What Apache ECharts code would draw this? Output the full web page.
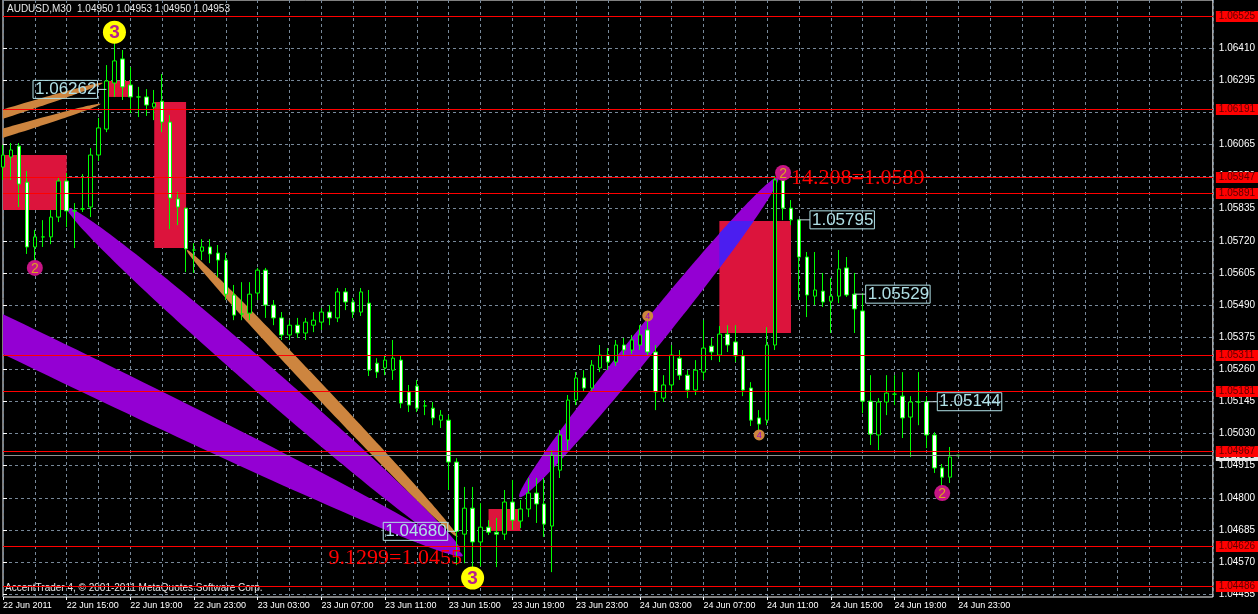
<!DOCTYPE html>
<html><head><meta charset="utf-8">
<script src="https://cdn.jsdelivr.net/npm/echarts@6/dist/echarts.min.js"></script>
<style>html,body{margin:0;padding:0;background:#000;}#c{width:1258px;height:614px;}</style>
</head><body><div id="c"></div>
<script>
const symbolName = 'AUDUSD,M30';
const copyrightText = 'AccentTrader 4, \u00A9 2001-2011 MetaQuotes Software Corp.';
const timeLabels = ['22 Jun 2011','22 Jun 15:00','22 Jun 19:00','22 Jun 23:00','23 Jun 03:00','23 Jun 07:00','23 Jun 11:00','23 Jun 15:00','23 Jun 19:00','23 Jun 23:00','24 Jun 03:00','24 Jun 07:00','24 Jun 11:00','24 Jun 15:00','24 Jun 19:00','24 Jun 23:00'];
const yTicks = [1.04455,1.04570,1.04685,1.04800,1.04915,1.05030,1.05145,1.05260,1.05375,1.05490,1.05605,1.05720,1.05835,1.05950,1.06065,1.06180,1.06295,1.06410,1.06525];
// [open, high, low, close]
const candles = [
[1.05984,1.06063,1.05938,1.06027],[1.06020,1.06070,1.05938,1.06045],[1.06059,1.06070,1.05841,1.05923],[1.05930,1.05970,1.05673,1.05698],
[1.05698,1.05759,1.05640,1.05734],[1.05734,1.05794,1.05698,1.05734],[1.05734,1.05830,1.05708,1.05805],[1.05805,1.05945,1.05787,1.05934],
[1.05934,1.05963,1.05769,1.05827],[1.05827,1.05855,1.05694,1.05827],[1.05834,1.05959,1.05823,1.05834],[1.05841,1.06052,1.05805,1.06027],
[1.06027,1.06160,1.06006,1.06124],[1.06120,1.06349,1.06109,1.06292],[1.06285,1.06428,1.06235,1.06364],[1.06371,1.06403,1.06224,1.06271],
[1.06278,1.06342,1.06177,1.06235],[1.06235,1.06271,1.06163,1.06235],[1.06235,1.06263,1.06167,1.06206],[1.06199,1.06260,1.06152,1.06213],
[1.06220,1.06317,1.06109,1.06145],[1.06145,1.06170,1.05762,1.05873],[1.05870,1.05895,1.05776,1.05841],[1.05837,1.05837,1.05608,1.05691],
[1.05687,1.05712,1.05605,1.05687],[1.05683,1.05726,1.05651,1.05698],[1.05698,1.05726,1.05640,1.05673],[1.05676,1.05705,1.05590,1.05651],
[1.05651,1.05676,1.05508,1.05529],[1.05526,1.05562,1.05436,1.05454],[1.05458,1.05572,1.05436,1.05458],[1.05461,1.05572,1.05436,1.05529],
[1.05533,1.05623,1.05508,1.05615],[1.05615,1.05623,1.05444,1.05490],[1.05490,1.05508,1.05418,1.05444],[1.05444,1.05465,1.05365,1.05383],
[1.05383,1.05436,1.05365,1.05418],[1.05418,1.05444,1.05372,1.05390],[1.05390,1.05444,1.05365,1.05429],[1.05418,1.05465,1.05393,1.05436],
[1.05429,1.05479,1.05401,1.05465],[1.05465,1.05490,1.05418,1.05444],[1.05444,1.05551,1.05429,1.05537],[1.05537,1.05551,1.05472,1.05501],
[1.05501,1.05515,1.05444,1.05465],[1.05465,1.05551,1.05451,1.05537],[1.05497,1.05544,1.05236,1.05257],[1.05282,1.05300,1.05229,1.05250],
[1.05265,1.05311,1.05239,1.05293],[1.05257,1.05365,1.05222,1.05300],[1.05293,1.05308,1.05121,1.05139],[1.05179,1.05204,1.05107,1.05132],
[1.05200,1.05222,1.05107,1.05121],[1.05129,1.05150,1.05096,1.05129],[1.05121,1.05143,1.05060,1.05086],[1.05078,1.05114,1.05050,1.05096],
[1.05078,1.05096,1.04828,1.04928],[1.04928,1.04942,1.04559,1.04680],[1.04670,1.04839,1.04566,1.04763],[1.04763,1.04839,1.04552,1.04642],
[1.04642,1.04781,1.04555,1.04695],[1.04695,1.04720,1.04667,1.04677],[1.04677,1.04728,1.04552,1.04670],[1.04670,1.04828,1.04649,1.04785],
[1.04785,1.04864,1.04685,1.04720],[1.04717,1.04792,1.04692,1.04760],[1.04760,1.04871,1.04731,1.04817],[1.04817,1.04871,1.04710,1.04778],
[1.04778,1.04871,1.04660,1.04706],[1.04699,1.04971,1.04534,1.04953],[1.04899,1.05043,1.04871,1.05025],[1.05007,1.05168,1.04971,1.05150],
[1.05150,1.05250,1.05132,1.05229],[1.05229,1.05257,1.05179,1.05193],[1.05193,1.05293,1.05179,1.05275],[1.05265,1.05347,1.05250,1.05311],
[1.05311,1.05336,1.05257,1.05286],[1.05286,1.05365,1.05272,1.05347],[1.05347,1.05372,1.05308,1.05329],[1.05329,1.05383,1.05315,1.05365],
[1.05347,1.05418,1.05329,1.05383],[1.05401,1.05465,1.05308,1.05322],[1.05322,1.05347,1.05114,1.05179],[1.05157,1.05239,1.05143,1.05204],
[1.05204,1.05347,1.05179,1.05311],[1.05300,1.05329,1.05222,1.05239],[1.05239,1.05257,1.05157,1.05186],[1.05186,1.05293,1.05168,1.05257],
[1.05250,1.05436,1.05222,1.05336],[1.05343,1.05372,1.05293,1.05322],[1.05311,1.05415,1.05286,1.05386],[1.05386,1.05418,1.05322,1.05347],
[1.05358,1.05418,1.05286,1.05308],[1.05308,1.05329,1.05164,1.05186],[1.05193,1.05214,1.05057,1.05078],[1.05086,1.05114,1.05043,1.05064],
[1.05078,1.05411,1.05060,1.05347],[1.05347,1.05952,1.05329,1.05938],[1.05938,1.05963,1.05794,1.05837],[1.05837,1.05866,1.05776,1.05795],
[1.05795,1.05795,1.05508,1.05662],[1.05662,1.05680,1.05447,1.05526],[1.05522,1.05680,1.05490,1.05544],[1.05540,1.05605,1.05483,1.05501],
[1.05504,1.05587,1.05390,1.05522],[1.05522,1.05687,1.05497,1.05619],[1.05623,1.05662,1.05519,1.05526],[1.05529,1.05605,1.05390,1.05476],
[1.05469,1.05533,1.05103,1.05146],[1.05146,1.05239,1.04989,1.05028],[1.05025,1.05157,1.04971,1.05143],[1.05143,1.05239,1.05096,1.05175],
[1.05171,1.05239,1.05132,1.05171],[1.05164,1.05250,1.05014,1.05086],[1.05089,1.05164,1.04946,1.05143],[1.05143,1.05250,1.05060,1.05143],
[1.05144,1.05161,1.04978,1.05025],[1.05025,1.05035,1.04889,1.04907],[1.04907,1.04921,1.04828,1.04874],[1.04874,1.04982,1.04853,1.04946],
[1.04950,1.04953,1.04950,1.04953]
];
const levels = [1.06525,1.06191,1.05947,1.05891,1.05311,1.05181,1.04967,1.04626,1.04486];
const bidPrice = 1.04953;
// [startBar, endBar, topPrice, bottomPrice]
const zones = [[0,8,1.06027,1.05830],[19,23,1.06217,1.05694],[13,16,1.06292,1.06235],[90,99,1.05791,1.05390],[61,65,1.04760,1.04681]];
// [bar1, price1, bar2, price2]
const ellipses = [
 [-47.9,1.06045,57.75,1.04592],
 [8.1,1.05837,57.4,1.04613],
 [23.1,1.05687,57.1,1.04660],
 [-31.7,1.05891,12.5,1.06285],
 [-31.7,1.05834,12.25,1.06210],
 [64.9,1.04803,97.4,1.05948]
];
// [bar, price, text, side]
const priceTags = [[13,1.06262,'1.06262','left'],[100,1.05795,'1.05795','right'],[107,1.05529,'1.05529','right'],[116,1.05144,'1.05144','right'],[57,1.04680,'1.04680','left']];
const fiboTexts = [[99,1.05945,'14.208=1.0589'],[40.9,1.04585,'9.1299=1.0455']];
const wave3 = [[14,1.06467,'3'],[59,1.04513,'3']];
const wave2 = [[4,1.05623,'2'],[98,1.05963,'2'],[118,1.04817,'2']];
const wave4 = [[81,1.05451,'4'],[95,1.05025,'4']];

// ---- styles ----
const ellipseLook = [
 {color:'#9400D3', thick:36},{color:'#9400D3', thick:28},{color:'#CD853F', thick:13},
 {color:'#CD853F', thick:10},{color:'#CD853F', thick:10},{color:'#9400D3', thick:26}
];
const F = 'Liberation Sans, Arial, sans-serif';
const NCAT = 153;
const cats = Array.from({length:NCAT},(_,i)=>String(i));

function clipPoly(pts, r){
  const x0=r.x,x1=r.x+r.width,y0=r.y,y1=r.y+r.height;
  const bounds=[
    [p=>p[0]>=x0,(a,b)=>{const t=(x0-a[0])/(b[0]-a[0]);return [x0,a[1]+t*(b[1]-a[1])];}],
    [p=>p[0]<=x1,(a,b)=>{const t=(x1-a[0])/(b[0]-a[0]);return [x1,a[1]+t*(b[1]-a[1])];}],
    [p=>p[1]>=y0,(a,b)=>{const t=(y0-a[1])/(b[1]-a[1]);return [a[0]+t*(b[0]-a[0]),y0];}],
    [p=>p[1]<=y1,(a,b)=>{const t=(y1-a[1])/(b[1]-a[1]);return [a[0]+t*(b[0]-a[0]),y1];}]
  ];
  let out=pts;
  for(const [ins,inter] of bounds){
    const inp=out; out=[];
    if(!inp.length) break;
    for(let i=0;i<inp.length;i++){
      const cur=inp[i], prev=inp[(i+inp.length-1)%inp.length];
      const ci=ins(cur), pi=ins(prev);
      if(ci){ if(!pi) out.push(inter(prev,cur)); out.push(cur); }
      else if(pi) out.push(inter(prev,cur));
    }
  }
  return out;
}
function ellipsePts(p1,p2,thick){
  const cx=(p1[0]+p2[0])/2, cy=(p1[1]+p2[1])/2;
  const dx=p2[0]-p1[0], dy=p2[1]-p1[1];
  const a=Math.hypot(dx,dy)/2, b=thick/2, ang=Math.atan2(dy,dx);
  const ca=Math.cos(ang), sa=Math.sin(ang), pts=[];
  for(let k=0;k<200;k++){const t=k/200*2*Math.PI;const ex=a*Math.cos(t),ey=b*Math.sin(t);pts.push([cx+ex*ca-ey*sa,cy+ex*sa+ey*ca]);}
  return pts;
}
function csRect(params){const c=params.coordSys;return {x:c.x,y:c.y,width:c.width,height:c.height};}
function levelRender(color, labelBg, labelFg){
  return function(params, api){
    const c=params.coordSys;
    const y=Math.round(api.coord([0, api.value(1)])[1]);
    return {type:'group', children:[
      {type:'rect', shape:{x:Math.round(c.x), y:y, width:Math.round(c.width), height:1}, style:{fill:color}},
      {type:'text', x:c.x+c.width+3, y:y+0.5, style:{text:api.value(1).toFixed(5), fill:labelFg, font:'10px '+F,
        align:'left', verticalAlign:'middle', backgroundColor:labelBg, padding:[1,6,0,3]}}
    ]};
  };
}

const last = candles[candles.length-1];
const chart = echarts.init(document.getElementById('c'), null, {renderer:'canvas'});
const option = {
  backgroundColor:'#000',
  animation:false,
  title:{text: symbolName+'  '+last.map(v=>v.toFixed(5)).join(' '), left:2, top:-1,
    textStyle:{color:'#e8e8e8', fontSize:10, fontWeight:'normal', fontFamily:F}},
  graphic:[{type:'text', left:5, top:583, style:{text:copyrightText, fill:'#e8e8e8', font:'10px '+F}}],
  grid:{left:3, right:39, top:0, bottom:17, show:true, borderColor:'#ffffff', borderWidth:1, backgroundColor:'#000'},
  xAxis:[{
    type:'category', data:cats, boundaryGap:false,
    axisLine:{show:false},
    axisTick:{show:true, interval:(i)=>i%8===0 && i/8<timeLabels.length, length:3, lineStyle:{color:'#fff'}},
    axisLabel:{interval:(i)=>i%8===0 && i/8<timeLabels.length, formatter:(v,i)=>timeLabels[i/8]||'', align:'left', color:'#fff', fontSize:9, fontFamily:F, margin:4},
    splitLine:{show:true, interval:(i)=>i%4===0, lineStyle:{color:'#778899', type:[3,3], width:1}}
  },{
    type:'value', min:0, max:NCAT-1, show:false
  }],
  yAxis:[{
    type:'value', position:'right', min:1.04445, max:1.06582, scale:true,
    axisLine:{show:false},
    axisTick:{show:true, customValues:yTicks, length:4, lineStyle:{color:'#fff'}},
    axisLabel:{customValues:yTicks, formatter:(v)=>v.toFixed(5), color:'#fff', fontSize:10, fontFamily:F, margin:6},
    splitLine:{show:true, lineStyle:{color:'#778899', type:[3,3], width:1}}
  }],
  series:[
    {type:'custom', name:'zones', xAxisIndex:1, yAxisIndex:0, z:1, silent:true, data:zones,
     renderItem(params, api){
       const z=zones[params.dataIndex];
       const a=api.coord([z[0],z[2]]), b=api.coord([z[1],z[3]]);
       const shape=echarts.graphic.clipRectByRect({x:a[0],y:a[1],width:b[0]-a[0],height:b[1]-a[1]}, csRect(params));
       return shape ? {type:'rect', shape, style:{fill:'#DC143C'}} : null;
     }},
    {type:'custom', name:'ellipses', xAxisIndex:1, yAxisIndex:0, z:2, silent:true, data:ellipses,
     renderItem(params, api){
       const e=ellipses[params.dataIndex], look=ellipseLook[params.dataIndex];
       const p1=api.coord([e[0],e[1]]), p2=api.coord([e[2],e[3]]);
       const pts=clipPoly(ellipsePts(p1,p2,look.thick), csRect(params));
       const children=[];
       if(pts.length>2) children.push({type:'polygon', shape:{points:pts}, style:{fill:look.color}});
       if(look.color==='#9400D3' && pts.length>2){
         zones.forEach(z=>{
           const a=api.coord([z[0],z[2]]), b=api.coord([z[1],z[3]]);
           const q=clipPoly(pts,{x:a[0],y:a[1],width:b[0]-a[0],height:b[1]-a[1]});
           if(q.length>2) children.push({type:'polygon', shape:{points:q}, style:{fill:'#4B1EF0'}});
         });
       }
       return {type:'group', children};
     }},
    {type:'candlestick', name:symbolName, xAxisIndex:0, yAxisIndex:0, z:3, silent:true,
     barWidth:4,
     data:candles.map(c=>[c[0],c[3],c[2],c[1]]),
     itemStyle:{color:'#000000', color0:'#ffffff', borderColor:'#00ff00', borderColor0:'#00ff00', borderColorDoji:'#00ff00', borderWidth:1}},
    {type:'custom', name:'bid', xAxisIndex:1, yAxisIndex:0, z:4, silent:true, clip:false,
     data:[[0,bidPrice]], renderItem:levelRender('#909090','#e8e8e8','#000000')},
    {type:'custom', name:'levels', xAxisIndex:1, yAxisIndex:0, z:5, silent:true, clip:false,
     data:levels.map(v=>[0,v]), renderItem:levelRender('#ff0000','#ff0000','#5a0000')},
    {type:'custom', name:'tags', xAxisIndex:1, yAxisIndex:0, z:6, silent:true, data:priceTags.map(t=>[t[0],t[1]]),
     renderItem(params, api){
       const t=priceTags[params.dataIndex];
       const p=api.coord([t[0],t[1]]);
       const left=t[3]==='left';
       const bx=left? p[0]-9 : p[0]+11;
       return {type:'group', children:[
         {type:'line', shape:{x1:p[0], y1:p[1], x2:bx, y2:p[1]}, style:{stroke:'#c8d8e0', lineWidth:1}},
         {type:'text', x:bx, y:p[1], style:{text:t[2], fill:'#B0E0E6', font:'17px '+F, align:left?'right':'left', verticalAlign:'middle',
           borderColor:'#B0E0E6', borderWidth:1, padding:[1,1,0,2]}}
       ]};
     }},
    {type:'custom', name:'fibo', xAxisIndex:1, yAxisIndex:0, z:6, silent:true, data:fiboTexts.map(t=>[t[0],t[1]]),
     renderItem(params, api){
       const t=fiboTexts[params.dataIndex];
       const p=api.coord([t[0],t[1]]);
       return {type:'text', x:p[0], y:p[1], style:{text:t[2], fill:'#ff0000', font:'22px Liberation Serif, Times New Roman, serif', align:'left', verticalAlign:'middle'}};
     }},
    {type:'custom', name:'w3', xAxisIndex:1, yAxisIndex:0, z:7, silent:true, data:wave3.map(t=>[t[0],t[1]]),
     renderItem(params, api){
       const t=wave3[params.dataIndex], p=api.coord([t[0],t[1]]);
       return {type:'group', children:[
         {type:'circle', shape:{cx:p[0], cy:p[1], r:11.5}, style:{fill:'#FFFF00'}},
         {type:'text', x:p[0], y:p[1]+1, style:{text:t[2], fill:'#B8208C', font:'bold 19px '+F, align:'center', verticalAlign:'middle'}}
       ]};
     }},
    {type:'custom', name:'w2', xAxisIndex:1, yAxisIndex:0, z:7, silent:true, data:wave2.map(t=>[t[0],t[1]]),
     renderItem(params, api){
       const t=wave2[params.dataIndex], p=api.coord([t[0],t[1]]);
       return {type:'group', children:[
         {type:'circle', shape:{cx:p[0], cy:p[1], r:8}, style:{fill:'#C71585'}},
         {type:'text', x:p[0], y:p[1]+1, style:{text:t[2], fill:'#DAA520', font:'14px '+F, align:'center', verticalAlign:'middle'}}
       ]};
     }},
    {type:'custom', name:'w4', xAxisIndex:1, yAxisIndex:0, z:7, silent:true, data:wave4.map(t=>[t[0],t[1]]),
     renderItem(params, api){
       const t=wave4[params.dataIndex], p=api.coord([t[0],t[1]]);
       return {type:'group', children:[
         {type:'circle', shape:{cx:p[0], cy:p[1], r:5.5}, style:{fill:'#CD853F'}},
         {type:'text', x:p[0], y:p[1]+1, style:{text:t[2], fill:'#9400D3', font:'9px '+F, align:'center', verticalAlign:'middle'}}
       ]};
     }}
  ]
};
chart.setOption(option);
</script>
</body></html>
